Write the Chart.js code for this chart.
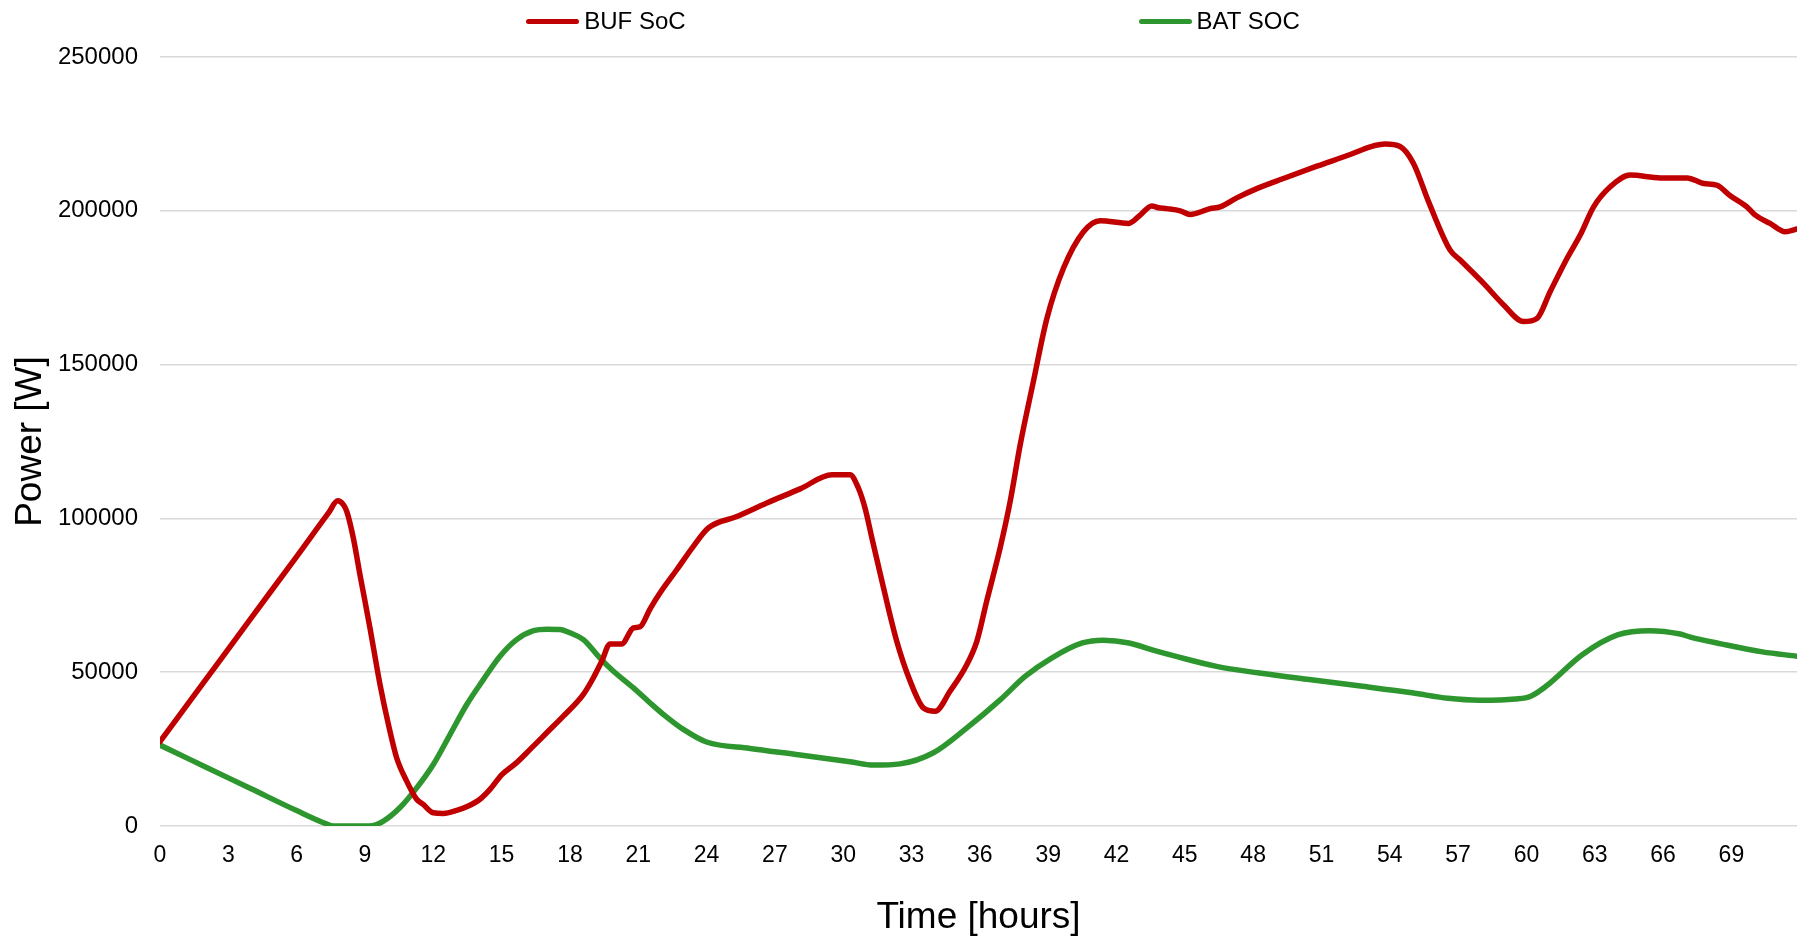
<!DOCTYPE html>
<html>
<head>
<meta charset="utf-8">
<title>BUF / BAT state of charge</title>
<script src="https://cdn.jsdelivr.net/npm/chart.js@4.4.1/dist/chart.umd.min.js"></script>
<style>
  html, body { margin: 0; padding: 0; background: #fff; }
  #wrap { position: relative; width: 1806px; height: 940px; }
  #legend {
    position: absolute; top: 7px; left: 0; width: 1806px;
    display: flex; justify-content: center; gap: 453px;
    padding-left: 20px; box-sizing: border-box;
    font-family: "Liberation Sans", Arial, sans-serif; font-size: 24px; color: #000;
  }
  .item { display: flex; align-items: center; line-height: 28px; }
  .swatch { width: 53px; height: 5px; border-radius: 3px; margin-right: 5px; }
</style>
</head>
<body>
<div id="wrap">
  <canvas id="socChart"></canvas>
  <div id="legend"></div>
</div>
<script>
// tick labels on the time axis
const hourTicks = [0, 3, 6, 9, 12, 15, 18, 21, 24, 27, 30, 33, 36, 39, 42, 45, 48, 51, 54, 57, 60, 63, 66, 69];
const xMax = 71.88;

// buffer state of charge
const bufHours = [0, 2, 4, 6, 7.4, 7.8, 8.05, 8.2, 8.49, 8.78, 9.22, 9.66, 10.03, 10.39, 10.83, 11.27, 11.56, 12.0,
  12.44, 13.03, 13.54, 14.05, 14.49, 15.0, 15.66, 16.25, 16.98, 17.71, 18.59, 19.03, 19.4, 19.76, 20.27, 20.79,
  21.08, 21.52, 21.96, 22.69, 23.42, 24.08, 25.33, 26.64, 28.11, 29.5, 30.3, 30.67, 30.96, 31.26, 31.77, 32.35,
  32.94, 33.52, 34.04, 34.69, 35.43, 35.87, 36.3, 36.89, 37.33, 37.77, 38.35, 38.94, 39.67, 40.55, 41.28, 42.53,
  43.04, 43.55, 43.84, 44.21, 44.8, 45.23, 46.11, 46.55, 47.28, 48.16, 49.33, 50.8, 52.26, 53.14, 53.8, 54.45,
  55.04, 55.7, 56.65, 57.09, 58.12, 59.0, 59.87, 60.46, 61.04, 61.78, 62.36, 62.95, 63.68, 64.56, 65.88, 67.05,
  67.78, 68.37, 68.95, 69.68, 70.05, 70.7, 71.36, 71.88];
const bufSoc = [27400, 47500, 67600, 87600, 101800, 105700, 104500, 102300, 93600, 81700, 64400, 46000, 33000, 22200,
  14600, 8700, 7000, 4300, 4100, 5100, 6500, 8700, 11900, 16600, 20600, 24900, 30300, 35700, 42800, 48200, 53600,
  59200, 59200, 64400, 64800, 70600, 75800, 83300, 90900, 96900, 100600, 105000, 109600, 114200, 114200, 109800,
  103300, 93600, 77400, 60100, 47100, 38400, 37300, 43800, 52500, 60100, 73100, 90400, 105500, 123900, 144500,
  164900, 181300, 193200, 196800, 195900, 198600, 201600, 201000, 200700, 200000, 198800, 200700, 201300, 204200,
  207200, 210500, 214500, 218300, 220800, 221700, 220900, 215400, 203000, 187200, 184000, 176400, 169400, 164000,
  165000, 173700, 184500, 192100, 201300, 207800, 211600, 210700, 210700, 208900, 208300, 204900, 201300, 198600,
  195900, 193200, 194100];

// battery state of charge
const batHours = [0, 2, 4, 6, 7.3, 7.6, 9.2, 9.81, 10.54, 11.27, 12.0, 12.74, 13.47, 14.2, 14.93, 15.66, 16.4, 17.0,
  17.57, 18.0, 18.59, 19.32, 19.91, 20.79, 21.52, 22.1, 22.98, 24.0, 25.91, 28.11, 30.3, 31.33, 32.5, 33.96, 35.43,
  36.89, 38.0, 39.15, 40.5, 41.41, 42.55, 43.68, 44.58, 46.39, 48.2, 50.46, 52.72, 54.98, 56.56, 57.93, 59.51,
  60.19, 60.87, 62.45, 64.03, 65.39, 66.75, 67.2, 68.55, 70.36, 71.88];
const batSoc = [26300, 19200, 12100, 5000, 700, 0, 0, 1600, 6000, 12400, 20000, 29800, 39500, 47600, 55200, 60600,
  63500, 64000, 63900, 62800, 60600, 54600, 50300, 44900, 40000, 36300, 31400, 27300, 25200, 23100, 20900, 19800,
  20200, 23800, 31900, 41000, 48700, 54600, 59500, 60400, 59500, 57000, 55200, 51900, 49800, 47600, 45500, 43300,
  41500, 40900, 41300, 42200, 45500, 55700, 62200, 63500, 62400, 61400, 59200, 56600, 55200];

const toPoints = (xs, ys) => xs.map((x, i) => ({ x: x, y: ys[i] }));

Chart.defaults.font.family = '"Liberation Sans", Arial, sans-serif';
Chart.defaults.color = "#000";

const socChart = new Chart(document.getElementById("socChart"), {
  type: "line",
  data: {
    datasets: [
      {
        label: "BUF SoC",
        data: toPoints(bufHours, bufSoc),
        borderColor: "#c00000",
        borderWidth: 5.5,
        pointRadius: 0,
        cubicInterpolationMode: "monotone",
        borderCapStyle: "round",
        borderJoinStyle: "round",
        fill: false,
      },
      {
        label: "BAT SOC",
        data: toPoints(batHours, batSoc),
        borderColor: "#2e962e",
        borderWidth: 5.5,
        pointRadius: 0,
        cubicInterpolationMode: "monotone",
        borderCapStyle: "round",
        borderJoinStyle: "round",
        fill: false,
      },
    ],
  },
  options: {
    responsive: true,
    maintainAspectRatio: false,
    animation: false,
    layout: { padding: { top: 57, right: 9, left: 0, bottom: 0 } },
    plugins: {
      legend: { display: false },
      tooltip: { enabled: false },
    },
    scales: {
      x: {
        type: "linear",
        min: 0,
        max: xMax,
        grid: { display: false, drawTicks: false },
        border: { display: false },
        ticks: { padding: 16, font: { size: 23 }, maxRotation: 0 },
        afterBuildTicks: (axis) => {
          axis.ticks = hourTicks.map((v) => ({ value: v }));
        },
        afterFit: (axis) => {
          axis.height = 114;
        },
        title: {
          display: true,
          text: "Time [hours]",
          font: { size: 37 },
          padding: { top: 0, bottom: 0 },
        },
      },
      y: {
        min: 0,
        max: 250000,
        ticks: {
          stepSize: 50000,
          padding: 22,
          font: { size: 24 },
          callback: (v) => String(v),
        },
        grid: { color: "#d9d9d9", lineWidth: 1.5, drawTicks: false },
        border: { display: false },
        afterFit: (axis) => {
          axis.width = 160;
        },
        title: {
          display: true,
          text: "Power [W]",
          font: { size: 37 },
          padding: { top: 9, bottom: 0 },
        },
      },
    },
  },
});

// legend row above the plot
const legendEl = document.getElementById("legend");
socChart.data.datasets.forEach((ds) => {
  const item = document.createElement("div");
  item.className = "item";
  const sw = document.createElement("span");
  sw.className = "swatch";
  sw.style.background = ds.borderColor;
  const txt = document.createElement("span");
  txt.textContent = ds.label;
  item.appendChild(sw);
  item.appendChild(txt);
  legendEl.appendChild(item);
});
</script>
</body>
</html>
